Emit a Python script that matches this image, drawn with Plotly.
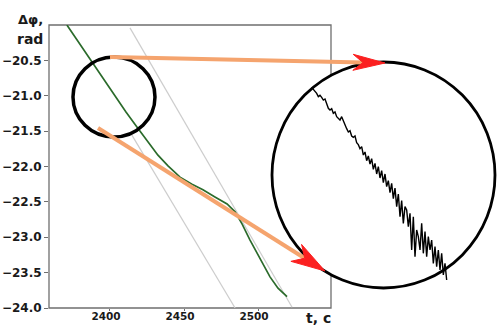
import plotly.graph_objects as go

# ---------------- data ----------------
t_green = [2370.9, 2379.7, 2388.5, 2395.9, 2403.4, 2410.8, 2418.2, 2425.7, 2432.4, 2439.2,
           2447.3, 2455.4, 2462.8, 2470.9, 2479.1, 2484.5, 2489.2, 2494.6, 2499.3, 2504.1,
           2508.1, 2513.5, 2519.6]
dphi_green = [-20.00, -20.27, -20.54, -20.78, -21.00, -21.23, -21.44, -21.65, -21.84, -21.99,
              -22.15, -22.25, -22.33, -22.43, -22.53, -22.64, -22.81, -23.04, -23.22, -23.41,
              -23.56, -23.72, -23.84]

t_fit_a = [2413.5, 2523.0]
dphi_fit_a = [-20.04, -23.99]
t_fit_b = [2413.5, 2484.5]
dphi_fit_b = [-21.51, -24.00]

t_zoom = [2390.0, 2390.3, 2390.6, 2390.9, 2391.2, 2391.5, 2391.8, 2392.1, 2392.4, 2392.7,
          2393.0, 2393.3, 2393.6, 2393.9, 2394.2, 2394.5, 2394.8, 2395.1, 2395.4, 2395.7,
          2396.0, 2396.3, 2396.6, 2396.9, 2397.2, 2397.5, 2397.8, 2398.1, 2398.4, 2398.7,
          2399.0, 2399.3, 2399.6, 2399.9, 2400.2, 2400.5, 2400.8, 2401.1, 2401.4, 2401.7,
          2402.0, 2402.3, 2402.6, 2402.9, 2403.2, 2403.5, 2403.8, 2404.1, 2404.4, 2404.7,
          2405.0, 2405.3, 2405.6, 2405.9, 2406.2, 2406.5, 2406.8, 2407.1, 2407.4, 2407.7,
          2408.0, 2408.3, 2408.6, 2408.9, 2409.2, 2409.5, 2409.8, 2410.1, 2410.4, 2410.7,
          2411.0, 2411.3, 2411.6, 2411.9, 2412.2, 2412.5, 2412.8, 2413.1, 2413.4, 2413.7,
          2414.0, 2414.3]
dphi_zoom = [-20.624, -20.636, -20.644, -20.660, -20.680, -20.672, -20.684, -20.700, -20.694, -20.720,
             -20.750, -20.760, -20.752, -20.780, -20.772, -20.800, -20.810, -20.820, -20.800, -20.828,
             -20.844, -20.872, -20.892, -20.884, -20.916, -20.924, -20.916, -20.956, -20.968, -20.992,
             -20.980, -21.030, -21.012, -21.064, -21.036, -21.084, -21.052, -21.116, -21.080, -21.144,
             -21.100, -21.168, -21.124, -21.196, -21.144, -21.220, -21.184, -21.256, -21.200, -21.292,
             -21.228, -21.340, -21.264, -21.400, -21.304, -21.440, -21.340, -21.360, -21.460, -21.380,
             -21.600, -21.400, -21.640, -21.480, -21.520, -21.600, -21.440, -21.620, -21.490, -21.640,
             -21.520, -21.600, -21.540, -21.680, -21.580, -21.700, -21.600, -21.720, -21.620, -21.750,
             -21.680, -21.780]

x_ticks = [2400, 2450, 2500]
y_ticks = [-24.0, -23.5, -23.0, -22.5, -22.0, -21.5, -21.0, -20.5]

# ---------------- layout helpers (pixel -> paper) ----------------
W, H = 497, 326
ML, MR, MT, MB = 49, 0, 25, 18
PW, PH = W - ML - MR, H - MT - MB


def px(x):
    return (x - ML) / PW


def py(y):
    return (H - MB - y) / PH


fig = go.Figure()
fig.add_trace(go.Scatter(x=t_fit_b, y=dphi_fit_b, mode="lines",
                         line=dict(color="#cdcdcd", width=1.2), showlegend=False))
fig.add_trace(go.Scatter(x=t_fit_a, y=dphi_fit_a, mode="lines",
                         line=dict(color="#cdcdcd", width=1.2), showlegend=False))
fig.add_trace(go.Scatter(x=t_green, y=dphi_green, mode="lines",
                         line=dict(color="#2b6b2b", width=1.7), showlegend=False))
fig.add_trace(go.Scatter(x=t_zoom, y=dphi_zoom, mode="lines", xaxis="x2", yaxis="y2",
                         line=dict(color="black", width=1.4), showlegend=False))

shapes = []
# frame of the main axes
shapes.append(dict(type="rect", xref="paper", yref="paper", x0=0, x1=px(331), y0=0, y1=1,
                   line=dict(color="#6f6f6f", width=1.3), fillcolor="rgba(0,0,0,0)", layer="below"))
# big magnifier circle (white fill hides frame)
shapes.append(dict(type="circle", xref="paper", yref="paper",
                   x0=px(272), x1=px(495), y0=py(288), y1=py(62),
                   line=dict(color="black", width=2.8), fillcolor="white", layer="below"))
# small circle around the zoomed region (data coords)
shapes.append(dict(type="circle", xref="x", yref="y",
                   x0=2375.0, x1=2430.4, y0=-21.583, y1=-20.453,
                   line=dict(color="black", width=3.5), layer="above"))


def arrow(tail, tip, L=32, Wd=9, notch=22):
    dx, dy = tail[0] - tip[0], tail[1] - tip[1]
    n = (dx * dx + dy * dy) ** 0.5
    ux, uy = dx / n, dy / n
    qx, qy = -uy, ux
    back = (tip[0] + notch * ux, tip[1] + notch * uy)
    b1 = (tip[0] + L * ux + Wd * qx, tip[1] + L * uy + Wd * qy)
    b2 = (tip[0] + L * ux - Wd * qx, tip[1] + L * uy - Wd * qy)
    out = [dict(type="line", xref="paper", yref="paper",
                x0=px(tail[0]), y0=py(tail[1]), x1=px(back[0]), y1=py(back[1]),
                line=dict(color="#f5a46e", width=4), layer="above")]
    pts = [tip, b1, back, b2]
    path = "M" + " L".join(f"{px(a):.5f},{py(b):.5f}" for a, b in pts) + " Z"
    out.append(dict(type="path", xref="paper", yref="paper", path=path,
                    fillcolor="#fb2020", line=dict(color="#fb2020", width=1), layer="above"))
    return out


shapes += arrow((110, 57), (385, 63), L=32, Wd=8, notch=22)
shapes += arrow((98, 128), (325, 271), L=34, Wd=10, notch=24)

FONT = "DejaVu Sans"
annotations = [
    dict(text="<b>Δφ,</b>", xref="paper", yref="paper", x=px(30), y=py(19), showarrow=False,
         font=dict(family=FONT, size=13, color="#1a1a1a"), xanchor="center", yanchor="middle"),
    dict(text="<b>rad</b>", xref="paper", yref="paper", x=px(30), y=py(39), showarrow=False,
         font=dict(family=FONT, size=14, color="#1a1a1a"), xanchor="center", yanchor="middle"),
    dict(text="<b>t, c</b>", xref="paper", yref="paper", x=px(318), y=py(318), showarrow=False,
         font=dict(family=FONT, size=14, color="#1a1a1a"), xanchor="center", yanchor="middle"),
]

fig.update_layout(
    width=W, height=H,
    margin=dict(l=ML, r=MR, t=MT, b=MB, pad=0),
    paper_bgcolor="white", plot_bgcolor="rgba(0,0,0,0)",
    showlegend=False,
    shapes=shapes,
    annotations=annotations,
    xaxis=dict(domain=[0, px(331)], range=[2358.8, 2549.3], tickvals=x_ticks,
               ticks="outside", ticklen=2, tickcolor="#6f6f6f", tickwidth=1,
               ticklabelstandoff=-4, ticklabelshift=-4,
               showline=False, showgrid=False, zeroline=False, automargin=False,
               tickfont=dict(family=FONT, size=10.5, color="#1a1a1a", weight="bold"), anchor="y"),
    yaxis=dict(domain=[0, 1], range=[-24, -20], tickvals=y_ticks, tickformat=".1f",
               ticks="outside", ticklen=4, tickcolor="#6f6f6f", tickwidth=1,
               showline=False, showgrid=False, zeroline=False, automargin=False,
               tickfont=dict(family=FONT, size=12, color="#1a1a1a", weight="bold"), anchor="x"),
    xaxis2=dict(domain=[px(300), px(460)], range=[2387.9, 2416.7], visible=False,
                anchor="y2", fixedrange=True),
    yaxis2=dict(domain=[py(290), py(80)], range=[-21.84, -20.58], visible=False,
                anchor="x2", fixedrange=True),
)

fig.write_html("out.html")
